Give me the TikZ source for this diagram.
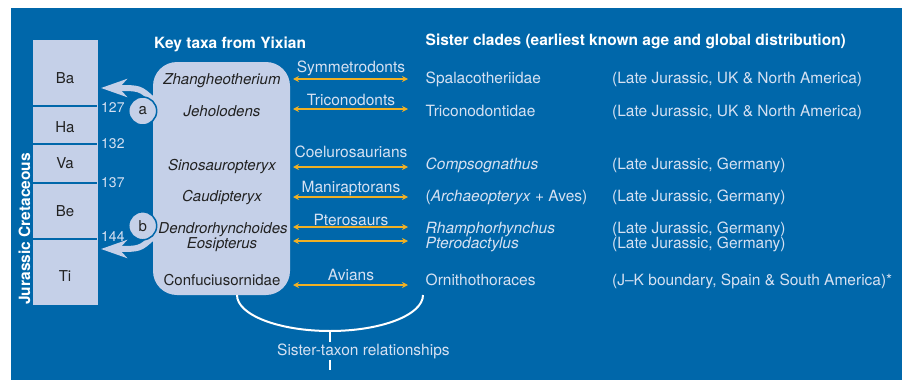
\documentclass[tikz,border=0pt]{standalone}
\usepackage{fontspec}
\setmainfont{TeX Gyre Heros}
\usetikzlibrary{arrows.meta}

\definecolor{seablue}{RGB}{0,103,170}
\definecolor{paleblue}{RGB}{197,208,232}
\definecolor{palefont}{RGB}{214,225,242}
\definecolor{amber}{RGB}{240,176,36}
\definecolor{inkgrey}{RGB}{34,34,34}

\tikzset{
  txt/.style={inner sep=0pt, font=\fontsize{15.5}{18}\selectfont},
  clade/.style={txt, text=palefont, anchor=base west},
  linklabel/.style={txt, text=palefont, anchor=base},
  taxon/.style={txt, text=inkgrey, anchor=base, font=\fontsize{15}{18}\selectfont\itshape},
  stage/.style={txt, text=inkgrey, anchor=base, font=\fontsize{15}{18}\selectfont},
  mya/.style={txt, text=palefont, anchor=base west, font=\fontsize{14}{16}\selectfont},
  heading/.style={txt, text=white, anchor=base west, font=\fontsize{15.5}{18}\selectfont\bfseries},
  scalebox/.style={fill=paleblue, inner sep=0pt},
  taxabox/.style={fill=paleblue, rounded corners=24pt, inner sep=0pt},
  divider/.style={seablue, line width=2pt},
  marker/.style={circle, fill=paleblue, draw=seablue, line width=1.5pt, minimum size=28pt,
    inner sep=0pt, text=inkgrey, font=\fontsize{15}{18}\selectfont},
  bigarrow/.style={paleblue, line width=6pt, -{Stealth[length=26pt,width=18pt,inset=8pt]}},
  link/.style={amber, line width=1.6pt, {Stealth[length=6pt,width=6pt]}-{Stealth[length=6pt,width=6pt]}},
  brace/.style={white, line width=2pt}
}

\begin{document}
\begin{tikzpicture}[x=1pt, y=-1pt]
  \useasboundingbox (0,0) rectangle (902,380);
  \fill[white] (0,0) rectangle (902,380);
  \fill[seablue] (11,8) rectangle (902,380);

  % time scale
  \node[scalebox, minimum width=65pt, minimum height=265pt] (scale) at (65.5,172.5) {};
  \foreach \y in {106,144,183,239}
    \draw[divider] (33,\y) -- (97,\y);
  \foreach \y/\s in {83/Ba,132/Ha,168/Va,216/Be,281/Ti}
    \node[stage] (st-\s) at (65,\y) {\s};
  \foreach \y/\m in {112/127,148/132,187/137,241/144}
    \node[mya] (ma-\m) at (101,\y) {\m};
  \node[heading, rotate=90] (period) at (30,305) {Jurassic Cretaceous};

  % key taxa
  \node[taxabox, minimum width=137pt, minimum height=233pt] (taxa) at (221.5,178.5) {};
  \node[heading] (taxa-head) at (154,48) {Key taxa from Yixian};
  \node[heading] (clade-head) at (425.5,45) {Sister clades (earliest known age and global distribution)};

  \coordinate (a-from) at (153,100);
  \coordinate (a-to) at (101,88);
  \coordinate (b-from) at (153,237);
  \coordinate (b-to) at (101,249);
  \draw[bigarrow] (a-from) .. controls (140,88) .. (a-to);
  \draw[bigarrow] (b-from) .. controls (140,249) .. (b-to);
  \node[marker] (mark-a) at (142.7,111) {a};
  \node[marker] (mark-b) at (142.7,225.8) {b};

  \node[taxon] (zhang) at (222,84) {Zhangheotherium};
  \node[taxon] (jeho) at (222,116) {Jeholodens};
  \node[taxon] (sino) at (222,170) {Sinosauropteryx};
  \node[taxon] (caud) at (222,201) {Caudipteryx};
  \node[taxon] (dend) at (223,233) {Dendrorhynchoides};
  \node[taxon] (eosi) at (222,248) {Eosipterus};
  \node[taxon, font=\fontsize{15}{18}\selectfont] (conf) at (222,285) {Confuciusornidae};

  % sister clades
  \node[clade] (spala) at (425.5,83) {Spalacotheriidae};
  \node[clade] (trico) at (425.5,116) {Triconodontidae};
  \node[clade] (comps) at (425.5,169) {\itshape Compsognathus};
  \node[clade] (archa) at (425.5,201) {(\textit{Archaeopteryx} + Aves)};
  \node[clade] (rhamp) at (425.5,233) {\itshape Rhamphorhynchus};
  \node[clade] (ptero) at (425.5,248) {\itshape Pterodactylus};
  \node[clade] (ornit) at (425.5,285) {Ornithothoraces};

  \foreach \y/\where in {83/{UK \& North America},116/{UK \& North America},169/Germany,
                         201/Germany,233/Germany,248/Germany}
    \node[clade] at (612,\y) {(Late Jurassic, \where)};
  \node[clade] (age-ornit) at (612,285) {(J--K boundary, Spain \& South America)*};

  % links between taxa and clades
  \foreach \y/\ly/\lab [count=\i] in {79/72/Symmetrodonts,109/105/Triconodonts,
      167/157/Coelurosaurians,197/192/Maniraptorans,227/225/Pterosaurs,285/280/Avians}
  {
    \coordinate (l\i) at (293,\y);
    \coordinate (r\i) at (408,\y);
    \path[link] (l\i) edge (r\i);
    \node[linklabel] (lab\i) at (351,\ly) {\lab};
  }
  \coordinate (l7) at (293,241);
  \coordinate (r7) at (408,241);
  \path[link] (l7) edge (r7);

  % sister-taxon bracket
  \coordinate (arc-l) at (237,295);
  \coordinate (arc-b) at (330,331);
  \coordinate (arc-r) at (423,295);
  \coordinate (tick) at (330,370);
  \draw[brace] (arc-l) .. controls (237,315) and (279,331) .. (arc-b)
    .. controls (381,331) and (423,315) .. (arc-r);
  \draw[brace] (arc-b) -- (tick);
  \node[clade, fill=seablue, inner ysep=1.8pt] (sister) at (277,355) {Sister-taxon relationships};
\end{tikzpicture}
\end{document}
